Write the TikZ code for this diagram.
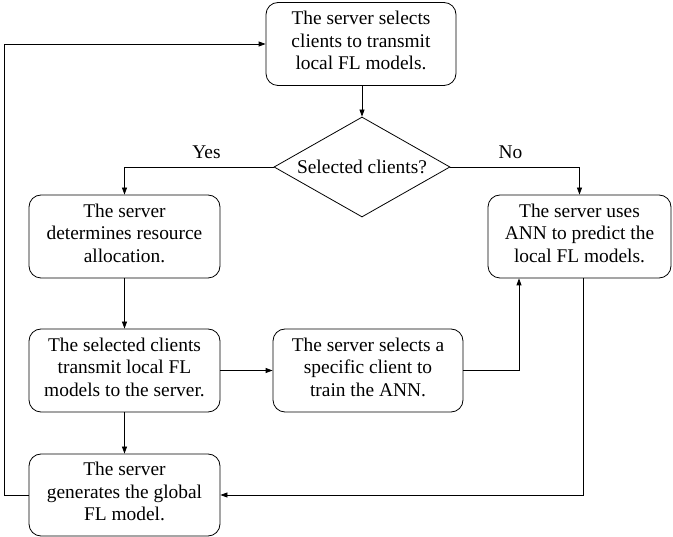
\documentclass[tikz,border=0pt]{standalone}
\usepackage{fontspec}
\setmainfont{Liberation Serif}
\usetikzlibrary{shapes.geometric,arrows.meta}

\begin{document}
\begin{tikzpicture}[x=1pt,y=-1pt,line width=0.8pt,
  box/.style={draw,rounded corners=12pt,align=center,inner sep=0pt,
    minimum width=190pt,minimum height=83pt,font=\fontsize{19.4}{22.6}\selectfont,
    execute at end node={\strut}},
  decide/.style={draw,diamond,aspect=1.76,inner xsep=-50pt,inner ysep=0pt,
    minimum width=176pt,minimum height=100pt,font=\fontsize{19.4}{22.6}\selectfont},
  flow/.style={-{Triangle[length=7pt,width=5pt]}},
  lbl/.style={inner sep=0pt,font=\fontsize{19.4}{22.6}\selectfont}]
\useasboundingbox (0,0) rectangle (673,537);
\node[box] (top) at (361,44) {The server selects\\clients to transmit\\local FL models.};
\node[decide] (sel) at (362,167) {Selected clients?};
\node[box,minimum width=191pt] (alloc) at (124.5,236.5) {The server\\determines resource\\allocation.};
\node[box,minimum width=183pt] (ann) at (579.5,236.5) {The server uses\\ANN to predict the\\local FL models.};
\node[box,minimum width=191pt] (send) at (124.5,370.5) {The selected clients\\transmit local FL\\models to the server.};
\node[box] (pick) at (368,370.5) {The server selects a\\specific client to\\train the ANN.};
\node[box,minimum width=191pt,minimum height=82pt] (glob) at (124.5,495) {The server\\generates the global\\FL model.};
% connectors
\draw[flow] (top.south -| sel) -- (sel);
\draw[flow] (sel.west) -| (alloc) node[lbl,pos=0.225,above=8pt] {Yes};
\draw[flow] (sel.east) -| (ann) node[lbl,pos=0.233,above=8pt] {No};
\draw[flow] (alloc) -- (send);
\draw[flow] (send) -- (pick);
\draw[flow] (pick.east) -| ([xshift=-60.5pt]ann.south);
\draw[flow] ([xshift=3.5pt]ann.south) |- (glob.east);
\draw[flow] (send) -- (glob);
\draw[flow] (glob.west) -- ++(-24.5,0) |- (top.west);
\end{tikzpicture}
\end{document}
